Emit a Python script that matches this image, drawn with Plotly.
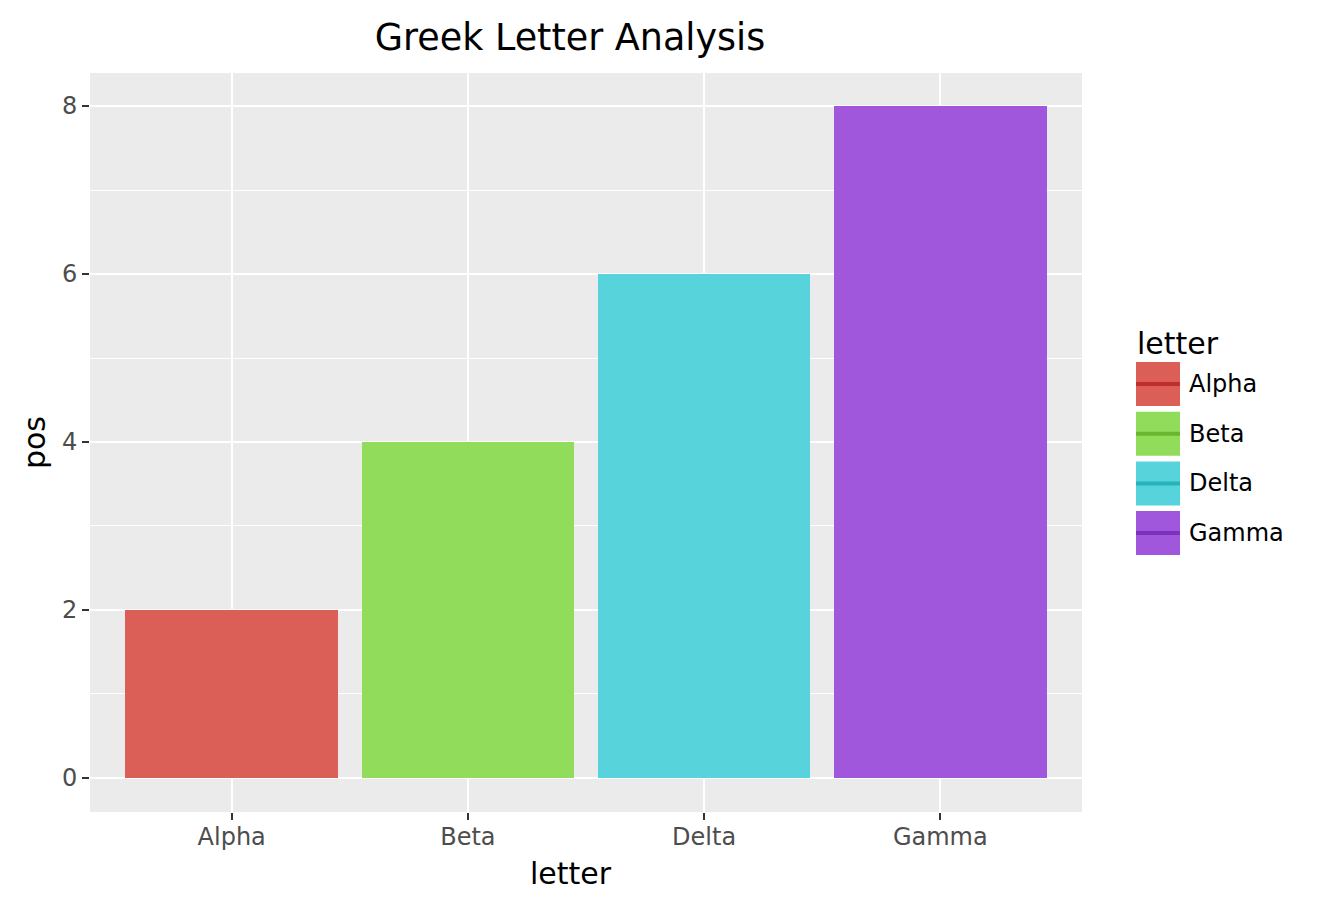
import plotly.graph_objects as go

letters = ["Alpha", "Beta", "Delta", "Gamma"]
pos = [2, 4, 6, 8]
fill_colors = ["#db5f57", "#91dc5a", "#57d3db", "#a057db"]
line_colors = ["#c0302a", "#6cb52f", "#28b3bb", "#7d2fbf"]

W, H = 1339, 911
OFF = 8  # page body margin
L, R, T, B = 90, 1082, 73, 812
FONT = "DejaVu Sans"

fig = go.Figure()
for name, v, c in zip(letters, pos, fill_colors):
    fig.add_trace(go.Bar(x=[name], y=[v], marker=dict(color=c, line=dict(width=0)),
                         width=0.9, name=name, showlegend=False))

def px_x(p):
    return (p - L) / (R - L)

def px_y(p):
    return (B - p) / (B - T)

shapes = []
annotations = []
annotations.append(dict(text="letter", x=px_x(1135), y=px_y(343), xref="paper", yref="paper",
                        xanchor="left", yanchor="middle", showarrow=False,
                        font=dict(family=FONT, size=30, color="black")))
key_top = 362
step = 49.7
for i, (name, fc, lc) in enumerate(zip(letters, fill_colors, line_colors)):
    y0 = key_top + i * step
    y1 = y0 + 44
    shapes.append(dict(type="rect", xref="paper", yref="paper",
                       x0=px_x(1136), x1=px_x(1180), y0=px_y(y1), y1=px_y(y0),
                       fillcolor=fc, line=dict(width=0), layer="above"))
    ym = (y0 + y1) / 2
    shapes.append(dict(type="line", xref="paper", yref="paper",
                       x0=px_x(1136), x1=px_x(1180), y0=px_y(ym), y1=px_y(ym),
                       line=dict(color=lc, width=4), layer="above"))
    annotations.append(dict(text=name, x=px_x(1187), y=px_y(ym), xref="paper", yref="paper",
                            xanchor="left", yanchor="middle", showarrow=False,
                            font=dict(family=FONT, size=24, color="black")))

# x axis title (ggplot centres it slightly left of panel centre here)
annotations.append(dict(text="letter", x=px_x(571), y=px_y(873), xref="paper", yref="paper",
                        xanchor="center", yanchor="middle", showarrow=False,
                        font=dict(family=FONT, size=30, color="black")))

fig.update_layout(
    width=W, height=H,
    margin=dict(l=L - OFF, r=W - R + OFF, t=T - OFF, b=H - B + OFF, pad=0),
    paper_bgcolor="white", plot_bgcolor="#ebebeb",
    font=dict(family=FONT, color="black"),
    title=dict(text="Greek Letter Analysis", x=(570 - OFF) / W, xanchor="center", xref="container",
               y=1 - (37 - OFF) / H, yanchor="middle", font=dict(family=FONT, size=36.5, color="black")),
    showlegend=False,
    bargap=0,
    shapes=shapes,
    annotations=annotations,
)
fig.update_xaxes(
    type="category", range=[-0.6, 3.6], categoryorder="array", categoryarray=letters,
    showgrid=True, gridcolor="white", gridwidth=2.4, zeroline=False,
    ticks="outside", ticklen=7, tickwidth=2.2, tickcolor="#333333",
    ticklabelstandoff=-4,
    tickfont=dict(family=FONT, size=24, color="#4d4d4d"),
    showline=False,
)
fig.update_yaxes(
    range=[-0.405, 8.393], tickvals=[0, 2, 4, 6, 8],
    showgrid=True, gridcolor="white", gridwidth=2.4, zeroline=False,
    minor=dict(tickvals=[1, 3, 5, 7], showgrid=True, gridcolor="white", gridwidth=1.1, ticks=""),
    ticks="outside", ticklen=7, tickwidth=2.2, tickcolor="#333333",
    tickfont=dict(family=FONT, size=24, color="#4d4d4d"),
    title=dict(text="pos", font=dict(family=FONT, size=30, color="black"), standoff=7),
    showline=False,
)

fig.write_html("out.html")
